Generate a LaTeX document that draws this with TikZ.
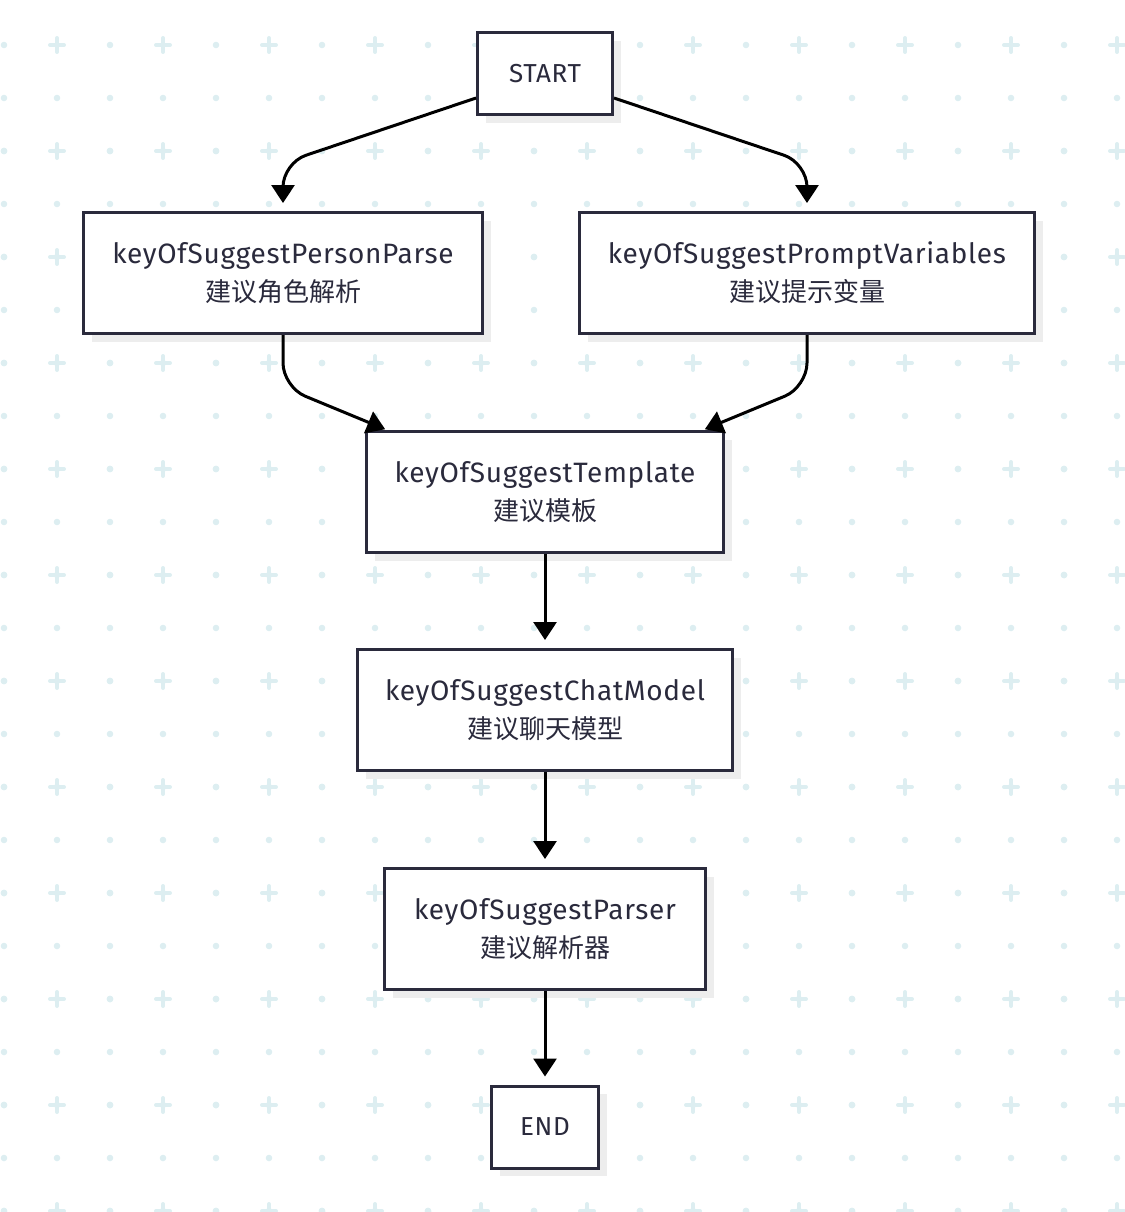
\documentclass[tikz,border=0pt]{standalone}
\usepackage{fontspec}
\setmainfont[LetterSpace=2.5]{Fira Sans}
\newfontfamily\cjk{Noto Sans CJK SC}
\usetikzlibrary{arrows.meta,calc,shadows}
\definecolor{gridcol}{HTML}{DDEEF1}
\definecolor{boxline}{HTML}{2A2A3C}
\definecolor{shadecol}{HTML}{EDEDED}
\newcommand{\zh}[1]{{\fontsize{26}{38}\selectfont\cjk #1}}
\tikzset{
	keybox/.style={draw=boxline, line width=3pt, fill=white, text=boxline,
		minimum height=121pt, align=center, inner sep=0pt,
		font=\fontsize{28}{38}\selectfont,
		drop shadow={shadow xshift=8pt, shadow yshift=-8pt, fill=shadecol, opacity=1}},
	termbox/.style={keybox, minimum height=82pt, font=\fontsize{26}{38}\selectfont},
	edge/.style={line width=3pt, -{Triangle[length=18pt,width=23pt]}, shorten >=8pt, rounded corners=24pt},
}

\begin{document}
\begin{tikzpicture}[x=1pt, y=1pt]
			%%%%% START %%%%%
			\useasboundingbox (0,0) rectangle (1124,-1212);
			
			% background grid
			\foreach \gx in {4,57,...,1117}
				\foreach \gy in {98,151,...,1211}
					\fill[gridcol] (\gx,-\gy) circle (3.3);
			\foreach \gx in {4,110,...,1117}
				\foreach \gy in {45,151,...,1211}
					\fill[gridcol] (\gx,-\gy) circle (3.3);
			\foreach \gx in {57,163,...,1117}
				\foreach \gy in {45,151,...,1211}
					\draw[gridcol, line width=4pt, line cap=round] (\gx-7,-\gy) -- (\gx+7,-\gy) (\gx,-\gy+7) -- (\gx,-\gy-7);
			
			% nodes
			\node[termbox, minimum width=135pt] (start) at (545,-74) {START};
			\node[keybox, minimum width=399pt] (pp) at (283,-273) {keyOfSuggestPersonParse\\\zh{建议角色解析}};
			\node[keybox, minimum width=455pt] (pv) at (807,-273) {keyOfSuggestPromptVariables\\\zh{建议提示变量}};
			\node[keybox, minimum width=357pt] (tm) at (545,-492) {keyOfSuggestTemplate\\\zh{建议模板}};
			\node[keybox, minimum width=375pt] (cm) at (545,-710) {keyOfSuggestChatModel\\\zh{建议聊天模型}};
			\node[keybox, minimum width=321pt] (ps) at (545,-929) {keyOfSuggestParser\\\zh{建议解析器}};
			\node[termbox, minimum width=107pt] (end) at (545,-1127) {END};
			
			% connectors
			\draw[edge] ([yshift=-24pt]start.west) -- ($(pp.north)+(0,48)$) -- (pp.north);
			\draw[edge] ([yshift=-24pt]start.east) -- ($(pv.north)+(0,48)$) -- (pv.north);
			
			\draw[edge, shorten >=2pt] (pp.south) -- ($(pp.south)+(0,-52)$) -- ([xshift=22pt]tm.north west);
			\draw[edge, shorten >=2pt] (pv.south) -- ($(pv.south)+(0,-52)$) -- ([xshift=-22pt]tm.north east);
			
			\draw[edge] (tm) -- (cm);
			\draw[edge] (cm) -- (ps);
			\draw[edge] (ps) -- (end);
			
			%%%%% END %%%%%
\end{tikzpicture}
\end{document}
